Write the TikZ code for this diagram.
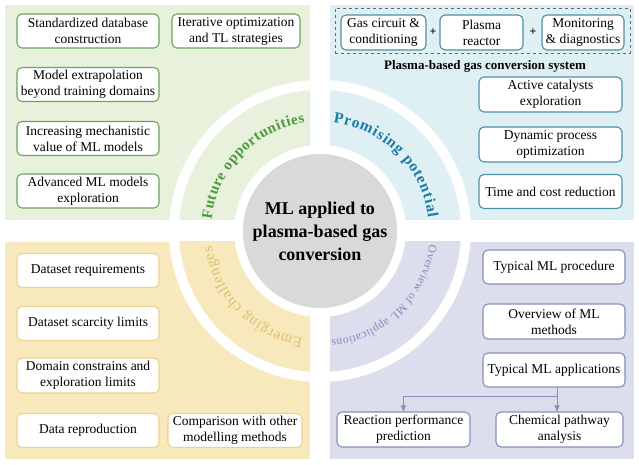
\documentclass[tikz,border=0pt]{standalone}
\usepackage{fontspec}
\setmainfont{Liberation Serif}
\usetikzlibrary{decorations.text,arrows.meta}
\definecolor{gpanel}{HTML}{E7F1DC}
\definecolor{bpanel}{HTML}{DFF0F5}
\definecolor{ypanel}{HTML}{F8E9BC}
\definecolor{ppanel}{HTML}{DCDDED}
\definecolor{gcirc}{HTML}{D9D9DB}
\definecolor{gtext}{HTML}{4E9B3E}
\definecolor{gline}{HTML}{6FA261}
\definecolor{btext}{HTML}{1B7CA7}
\definecolor{bline}{HTML}{4A90A6}
\definecolor{ytext}{HTML}{E0BE6E}
\definecolor{yline}{HTML}{E8D394}
\definecolor{ptext}{HTML}{7F8BBA}
\definecolor{pline}{HTML}{8591B6}
\newcommand\arcfontA{\bfseries\fontsize{15}{15}\selectfont}
\newcommand\arcfontB{\bfseries\fontsize{15.5}{15.5}\selectfont}
\newcommand\arcfontC{\fontsize{15}{15}\selectfont}
\newcommand\arcfontD{\fontsize{11.5}{11.5}\selectfont}
\begin{document}
\begin{tikzpicture}[x=1pt,y=1pt,
  box/.style={draw, rounded corners=5pt, fill=white, line width=1.1pt, align=center,
    inner sep=1pt, font=\fontsize{13.5}{16}\selectfont, minimum height=34pt},
  gbox/.style={box, draw=gline},
  bbox/.style={box, draw=bline},
  ybox/.style={box, draw=yline},
  pbox/.style={box, draw=pline},
  arr/.style={draw=pline, line width=1pt, -{Triangle[length=6pt,width=5pt]}},
  plus/.style={font=\bfseries\fontsize{12}{12}\selectfont, inner sep=0pt}
]
\useasboundingbox (0,0) rectangle (639,465);
\fill[white] (0,0) rectangle (639,465);
% panels
\fill[gpanel] (5,245) rectangle (310,460);
\fill[bpanel] (330,245) rectangle (634,460);
\fill[ypanel] (5,6) rectangle (310,223);
\fill[ppanel] (330,6) rectangle (634,223);
% white ring and wedges
\fill[white] (320,234) circle[radius=151pt];
\begin{scope}
  \clip (5,245) rectangle (310,460);
  \fill[gpanel, even odd rule] (320,234) circle[radius=141pt] (320,234) circle[radius=86pt];
\end{scope}
\begin{scope}
  \clip (330,245) rectangle (634,460);
  \fill[bpanel, even odd rule] (320,234) circle[radius=141pt] (320,234) circle[radius=86pt];
\end{scope}
\begin{scope}
  \clip (5,6) rectangle (310,223);
  \fill[ypanel, even odd rule] (320,234) circle[radius=141pt] (320,234) circle[radius=86pt];
\end{scope}
\begin{scope}
  \clip (330,6) rectangle (634,223);
  \fill[ppanel, even odd rule] (320,234) circle[radius=141pt] (320,234) circle[radius=86pt];
\end{scope}
\fill[gcirc] (320,234) circle[radius=77pt];
\node[align=center, font=\bfseries\fontsize{18}{23}\selectfont] (center) at (320,234)
  {ML applied to\\plasma-based gas\\conversion};
% arc texts
\path[decorate, decoration={text along path, text align=fit to path, text color=gtext,
  text={|\arcfontA|Future opportunities}}]
  (320,234) ++(174:109pt) arc[start angle=174, end angle=98, radius=109pt];
\path[decorate, decoration={text along path, text align=fit to path, text color=btext,
  text={|\arcfontB|Promising potential}}]
  (320,234) ++(83:109pt) arc[start angle=83, end angle=7, radius=109pt];
\path[decorate, decoration={text along path, text align=fit to path, text color=ytext,
  text={|\arcfontC|Emerging challenges}}]
  (320,234) ++(261:109pt) arc[start angle=261, end angle=188, radius=109pt];
\path[decorate, decoration={text along path, text align=fit to path, text color=ptext,
  text={|\arcfontD|Overview of ML applications}}]
  (320,234) ++(353:110pt) arc[start angle=353, end angle=276, radius=110pt];
% green boxes
\node[gbox, minimum width=142pt] (g1) at (88,434) {Standardized database\\construction};
\node[gbox, minimum width=128pt] (g2) at (236,434) {Iterative optimization\\and TL strategies};
\node[gbox, minimum width=142pt] (g3) at (88,380.5) {Model extrapolation\\beyond training domains};
\node[gbox, minimum width=142pt] (g4) at (88,326.5) {Increasing mechanistic\\value of ML models};
\node[gbox, minimum width=142pt] (g5) at (88,274) {Advanced ML models\\exploration};
% blue system
\node[draw=gray!80!black, dashed, line width=0.8pt, minimum width=295pt, minimum height=45pt, inner sep=0pt] (sys) at (482.5,434.5) {};
\node[bbox, minimum width=85pt, minimum height=35pt] (b1) at (383.5,432.5) {Gas circuit \&\\conditioning};
\node[plus] (p1) at (433,432.5) {+};
\node[bbox, minimum width=83pt, minimum height=35pt] (b2) at (481.5,432.5) {Plasma\\reactor};
\node[plus] (p2) at (533,432.5) {+};
\node[bbox, minimum width=82pt, minimum height=35pt] (b3) at (583,432.5) {Monitoring\\\& diagnostics};
\node[font=\bfseries\fontsize{13}{15}\selectfont] (syslab) at (485,399) {Plasma-based gas conversion system};
\node[bbox, minimum width=143pt, minimum height=35pt] (b4) at (550.5,370.5) {Active catalysts\\exploration};
\node[bbox, minimum width=143pt, minimum height=35pt] (b5) at (550.5,320.5) {Dynamic process\\optimization};
\node[bbox, minimum width=143pt] (b6) at (550.5,273.5) {Time and cost reduction};
% yellow boxes
\node[ybox, minimum width=142pt] (y1) at (88,194.5) {Dataset requirements};
\node[ybox, minimum width=142pt] (y2) at (88,141.5) {Dataset scarcity limits};
\node[ybox, minimum width=142pt, minimum height=35pt] (y3) at (88,89.5) {Domain constrains and\\exploration limits};
\node[ybox, minimum width=142pt] (y4) at (88,34.5) {Data reproduction};
\node[ybox, minimum width=134pt] (y5) at (235,34.5) {Comparison with other\\modelling methods};
% purple boxes
\node[pbox, minimum width=142pt] (q1) at (554,198) {Typical ML procedure};
\node[pbox, minimum width=142pt, minimum height=35pt] (q2) at (554,143.5) {Overview of ML\\methods};
\node[pbox, minimum width=142pt] (q3) at (554,95) {Typical ML applications};
\node[pbox, minimum width=133pt, minimum height=35pt] (q4) at (403.5,35.5) {Reaction performance\\prediction};
\node[pbox, minimum width=127pt, minimum height=35pt] (q5) at (559.5,35.5) {Chemical pathway\\analysis};
\coordinate (j) at (557,68);
\draw[draw=pline, line width=1pt] (q3.south -| j) -- (j);
\draw[arr] (j) -- (j |- q5.north);
\draw[arr] (j) -| (q4.north);
\end{tikzpicture}
\end{document}
